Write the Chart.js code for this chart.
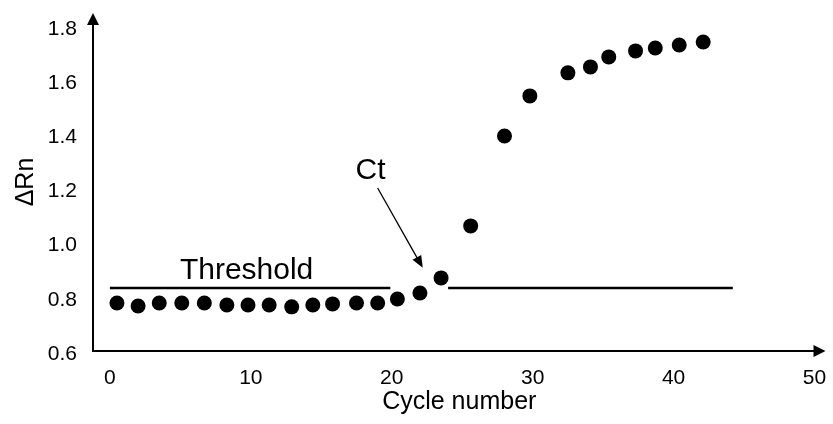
<!DOCTYPE html>
<html>
<head>
<meta charset="utf-8">
<script src="https://cdn.jsdelivr.net/npm/chart.js@4/dist/chart.umd.min.js"></script>
<style>
  html, body { margin: 0; padding: 0; background: #fff; }
  #wrap { width: 833px; height: 424px; }
</style>
</head>
<body>
<div id="wrap"><canvas id="chart"></canvas></div>
<script>
// amplification data
var cycles = [0.5, 2.0, 3.5, 5.1, 6.7, 8.3, 9.8, 11.3, 12.9, 14.4, 15.8, 17.5, 19.0,
  20.4, 22.0, 23.5, 25.6, 28.0, 29.8, 32.5, 34.1, 35.4, 37.3, 38.7, 40.4, 42.1];
var deltaRn = [0.788, 0.777, 0.788, 0.788, 0.788, 0.781, 0.781, 0.781, 0.774, 0.781, 0.785, 0.788, 0.788,
  0.803, 0.825, 0.881, 1.073, 1.405, 1.553, 1.638, 1.660, 1.697, 1.719, 1.730, 1.741, 1.752];

var thresholdValue = 0.844;
var thresholdLeft = [0.0, 19.9];
var thresholdRight = [24.0, 44.2];

var xTicks = [0, 10, 20, 30, 40, 50];
var yTicks = [0.6, 0.8, 1.0, 1.2, 1.4, 1.6, 1.8];

var font = "'Liberation Sans', Arial, Helvetica, sans-serif";

// axes with arrow heads + text annotations
var annotations = {
  id: "annotations",
  afterDatasetsDraw: function(chart){
    var ctx = chart.ctx;
    var area = chart.chartArea;
    var xs = chart.scales.x, ys = chart.scales.y;
    ctx.save();
    ctx.strokeStyle = "#000";
    ctx.fillStyle = "#000";
    ctx.lineWidth = 2;
    ctx.beginPath();
    ctx.moveTo(area.left, area.top + 10);
    ctx.lineTo(area.left, area.bottom);
    ctx.lineTo(area.right - 8, area.bottom);
    ctx.stroke();
    // y arrow
    ctx.beginPath();
    ctx.moveTo(area.left, area.top);
    ctx.lineTo(area.left - 6, area.top + 12);
    ctx.lineTo(area.left + 6, area.top + 12);
    ctx.closePath();
    ctx.fill();
    // x arrow
    ctx.beginPath();
    ctx.moveTo(area.right, area.bottom);
    ctx.lineTo(area.right - 12, area.bottom - 6);
    ctx.lineTo(area.right - 12, area.bottom + 6);
    ctx.closePath();
    ctx.fill();

    // texts
    ctx.font = "30px " + font;
    ctx.textAlign = "center";
    ctx.textBaseline = "alphabetic";
    ctx.fillText("Threshold", xs.getPixelForValue(9.7), ys.getPixelForValue(0.877));
    ctx.fillText("Ct", xs.getPixelForValue(18.5), ys.getPixelForValue(1.246));

    // Ct arrow
    var x1 = xs.getPixelForValue(19.0), y1 = ys.getPixelForValue(1.213);
    var x2 = xs.getPixelForValue(22.2), y2 = ys.getPixelForValue(0.918);
    var ang = Math.atan2(y2 - y1, x2 - x1);
    ctx.lineWidth = 1.3;
    ctx.beginPath();
    ctx.moveTo(x1, y1);
    ctx.lineTo(x2 - 8 * Math.cos(ang), y2 - 8 * Math.sin(ang));
    ctx.stroke();
    ctx.beginPath();
    ctx.moveTo(x2, y2);
    ctx.lineTo(x2 - 12 * Math.cos(ang) + 5 * Math.sin(ang), y2 - 12 * Math.sin(ang) - 5 * Math.cos(ang));
    ctx.lineTo(x2 - 12 * Math.cos(ang) - 5 * Math.sin(ang), y2 - 12 * Math.sin(ang) + 5 * Math.cos(ang));
    ctx.closePath();
    ctx.fill();
    ctx.restore();
  }
};

var points = cycles.map(function(c, i){ return { x: c, y: deltaRn[i] }; });

new Chart(document.getElementById("chart"), {
  type: "scatter",
  data: {
    datasets: [
      {
        label: "Threshold left",
        type: "line",
        data: [{ x: thresholdLeft[0], y: thresholdValue }, { x: thresholdLeft[1], y: thresholdValue }],
        borderColor: "#000",
        borderWidth: 2.5,
        pointRadius: 0,
        fill: false
      },
      {
        label: "Threshold right",
        type: "line",
        data: [{ x: thresholdRight[0], y: thresholdValue }, { x: thresholdRight[1], y: thresholdValue }],
        borderColor: "#000",
        borderWidth: 2.5,
        pointRadius: 0,
        fill: false
      },
      {
        label: "ΔRn",
        data: points,
        backgroundColor: "#000",
        borderColor: "#000",
        borderWidth: 0,
        pointRadius: 7.5
      }
    ]
  },
  options: {
    responsive: true,
    maintainAspectRatio: false,
    animation: false,
    layout: { padding: { top: 13, right: 5, left: 0, bottom: 0 } },
    plugins: {
      legend: { display: false },
      tooltip: { enabled: false }
    },
    scales: {
      x: {
        type: "linear",
        min: -1.2,
        max: 50.78,
        grid: { display: false, drawTicks: false },
        border: { display: false },
        afterBuildTicks: function(scale){
          scale.ticks = xTicks.map(function(v){ return { value: v }; });
        },
        afterFit: function(scale){
          scale.height = 73;
          scale.paddingLeft = 0;
          scale.paddingRight = 0;
        },
        ticks: {
          padding: 15,
          color: "#000",
          font: { family: font, size: 21 },
          maxRotation: 0,
          autoSkip: false
        },
        title: {
          display: true,
          text: "Cycle number",
          color: "#000",
          font: { family: font, size: 25 },
          padding: { top: 0, bottom: 7 }
        }
      },
      y: {
        type: "linear",
        min: 0.611,
        max: 1.859,
        grid: { display: false, drawTicks: false },
        border: { display: false },
        afterBuildTicks: function(scale){
          scale.ticks = yTicks.map(function(v){ return { value: v }; });
        },
        afterFit: function(scale){
          scale.width = 93;
          scale.paddingTop = 0;
          scale.paddingBottom = 0;
        },
        ticks: {
          padding: 16,
          color: "#000",
          font: { family: font, size: 21 },
          autoSkip: false,
          callback: function(v){ return v.toFixed(1); }
        },
        title: {
          display: true,
          text: "ΔRn",
          color: "#000",
          font: { family: font, size: 25 },
          padding: { top: 11, bottom: 0 }
        }
      }
    }
  },
  plugins: [annotations]
});
</script>
</body>
</html>
